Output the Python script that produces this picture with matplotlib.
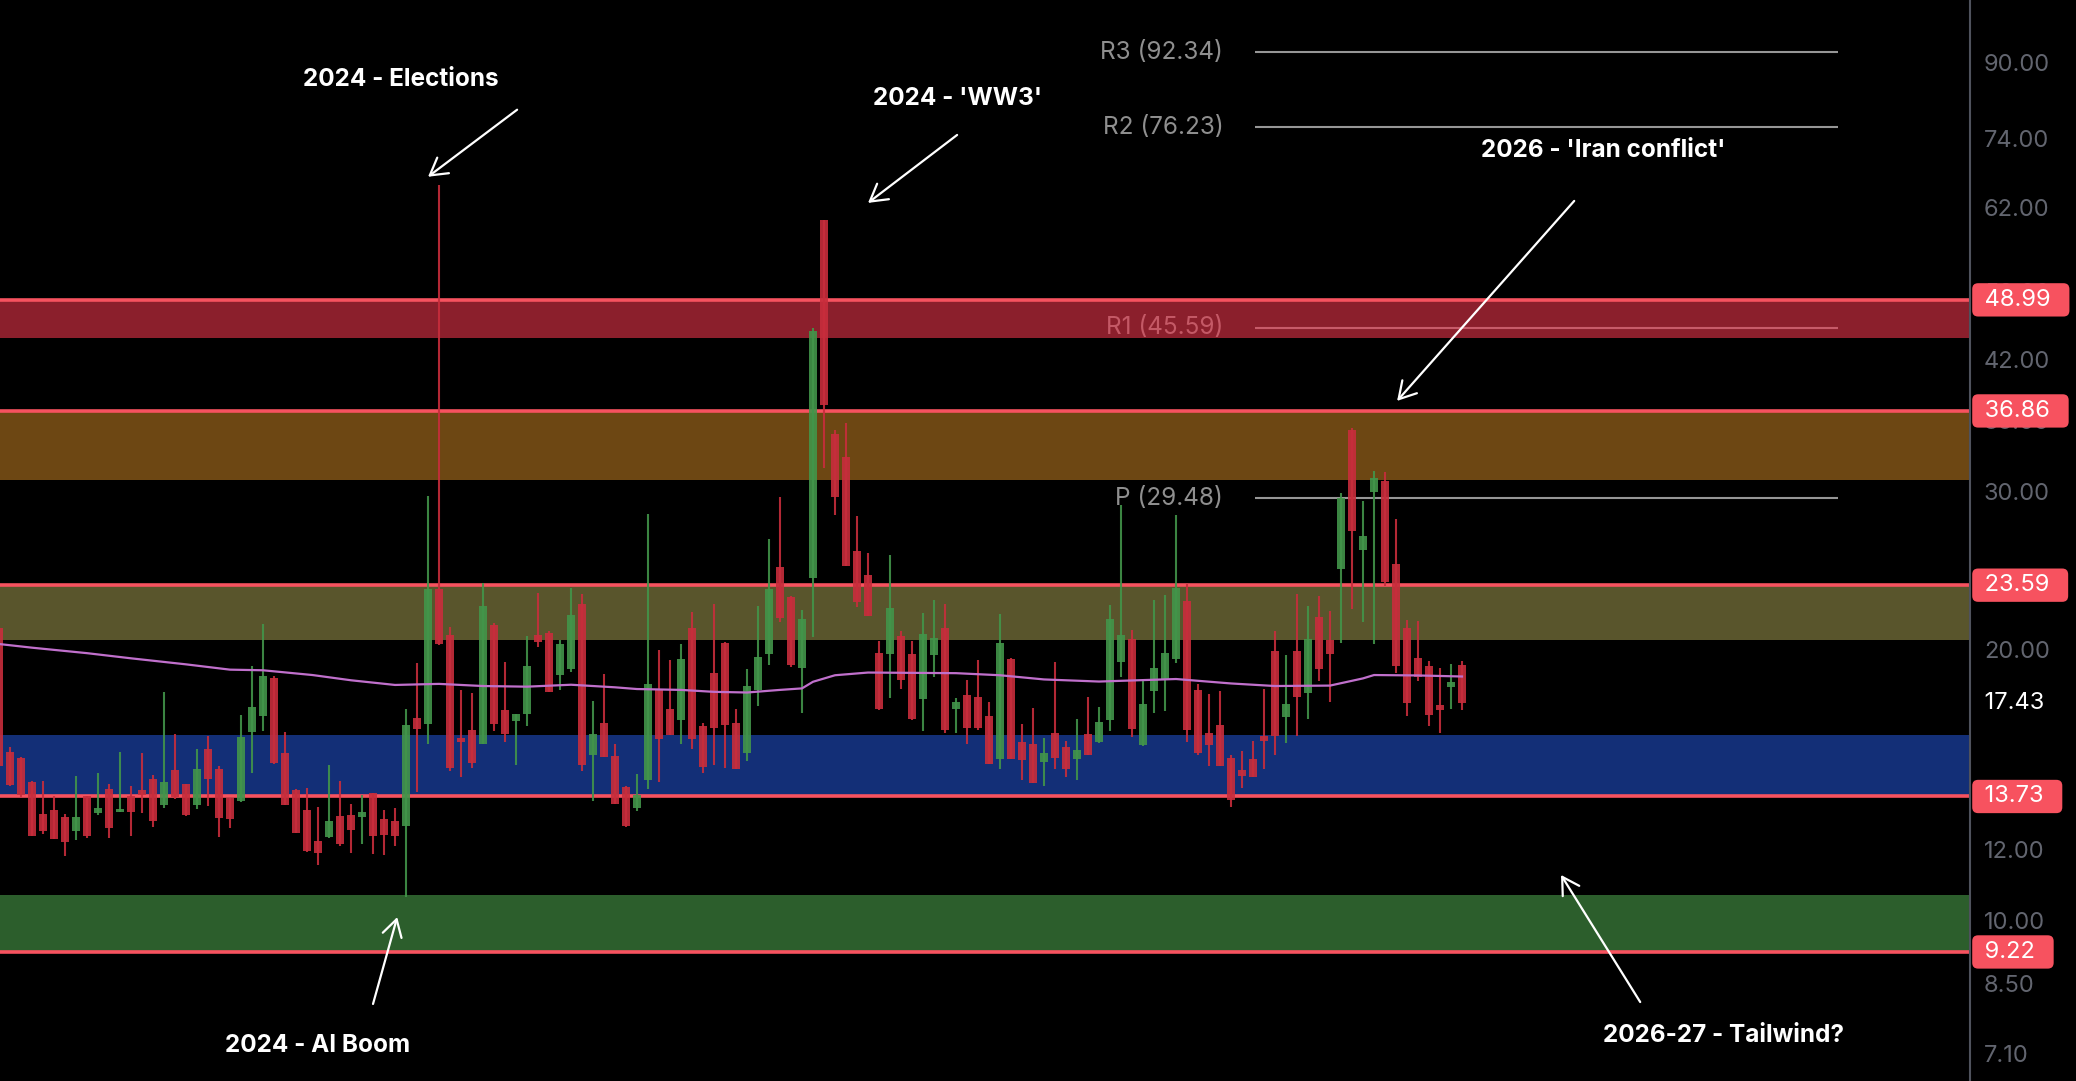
import numpy as np
import matplotlib.pyplot as plt
from matplotlib.transforms import blended_transform_factory
from matplotlib.ticker import NullLocator

plt.rcParams['font.family'] = ['Inter', 'DejaVu Sans']

# daily candles (oldest first)
opens = [21.14, 15.39, 15.15, 14.25, 13.13, 13.27, 13.03, 12.57, 13.75, 13.17,
         13.99, 13.20, 13.75, 13.96, 14.36, 13.44, 14.70, 14.17, 13.44, 15.51,
         14.73, 13.67, 13.57, 16.20, 16.88, 18.60, 15.35, 13.96, 13.27, 12.26,
         12.37, 13.07, 13.10, 13.03, 13.85, 12.96, 12.90, 12.73, 16.79, 16.53,
         23.36, 20.76, 15.95, 16.28, 15.71, 21.30, 17.14, 16.66, 16.97, 20.76,
         20.87, 18.75, 19.03, 22.48, 15.27, 16.57, 15.23, 14.06, 13.33, 14.32,
         18.08, 17.18, 16.70, 21.14, 16.44, 18.84, 20.34, 16.57, 15.35, 18.04,
         19.78, 24.72, 22.88, 19.09, 24.03, 60.12, 34.76, 32.76, 25.75, 24.22,
         19.83, 19.78, 20.71, 19.78, 17.62, 19.73, 21.14, 17.18, 17.81, 17.72,
         16.88, 15.12, 19.53, 15.79, 15.71, 15.00, 16.16, 15.59, 15.12, 16.11,
         15.79, 16.70, 19.38, 20.55, 15.67, 17.99, 18.56, 19.53, 22.65, 18.04,
         16.16, 16.49, 15.15, 14.70, 15.12, 16.03, 19.93, 16.83, 19.93, 17.90,
         21.75, 20.50, 24.59, 35.12, 25.82, 29.96, 30.81, 24.92, 21.14, 19.58,
         19.18, 17.36, 18.18, 19.23]
highs = [21.14, 15.59, 15.19, 14.28, 14.28, 13.75, 13.13, 14.47, 13.75, 14.59,
         14.17, 15.39, 14.10, 15.35, 14.51, 17.95, 16.11, 14.17, 15.51, 16.03,
         14.85, 13.67, 16.92, 19.18, 21.36, 18.70, 16.20, 13.99, 14.03, 13.37,
         14.89, 14.28, 13.47, 13.78, 13.85, 13.27, 13.33, 17.18, 19.33, 29.65,
         65.76, 21.19, 18.04, 17.90, 23.73, 21.41, 19.38, 16.97, 20.71, 23.13,
         20.98, 20.50, 23.42, 23.07, 17.53, 18.80, 15.71, 14.10, 14.55, 28.32,
         19.98, 19.48, 20.29, 22.03, 16.57, 22.48, 20.40, 17.18, 19.03, 22.36,
         26.56, 29.58, 22.94, 22.14, 45.60, 60.12, 35.12, 35.75, 28.17, 25.62,
         20.45, 25.49, 20.98, 20.45, 21.97, 22.71, 22.48, 17.67, 18.51, 19.48,
         17.49, 21.92, 19.58, 16.53, 17.22, 15.95, 19.38, 15.83, 16.74, 17.72,
         17.27, 22.42, 28.98, 21.03, 18.56, 22.71, 23.01, 28.24, 23.67, 18.32,
         17.86, 17.99, 15.27, 15.43, 15.83, 18.08, 20.98, 19.73, 23.07, 22.36,
         22.94, 22.08, 29.88, 35.30, 29.27, 31.61, 31.53, 27.95, 21.58, 21.53,
         19.43, 19.09, 19.28, 19.43]
lows = [14.85, 14.10, 13.71, 12.40, 12.47, 12.30, 11.79, 12.29, 12.34, 13.10,
        12.34, 13.20, 12.41, 13.17, 12.70, 13.33, 13.64, 13.07, 13.30, 13.40,
        12.37, 12.66, 13.54, 14.59, 16.24, 14.93, 13.44, 12.50, 11.91, 11.52,
        12.34, 12.10, 11.88, 12.16, 11.85, 11.82, 12.10, 10.61, 13.89, 15.71,
        20.24, 14.66, 14.44, 14.77, 15.71, 16.24, 15.79, 14.89, 16.44, 20.13,
        17.95, 18.04, 18.89, 14.66, 13.57, 15.19, 13.47, 12.70, 13.24, 13.99,
        14.25, 16.07, 15.71, 15.51, 14.59, 14.89, 14.77, 14.73, 15.04, 17.31,
        19.23, 21.47, 19.14, 17.01, 20.65, 31.85, 28.24, 24.78, 22.30, 21.80,
        17.14, 17.67, 18.08, 16.70, 16.24, 18.65, 16.16, 16.16, 15.71, 16.28,
        14.93, 14.73, 15.12, 14.32, 14.21, 14.10, 14.73, 14.44, 14.32, 15.27,
        15.75, 16.24, 18.65, 15.99, 15.63, 17.01, 17.09, 19.33, 15.79, 15.27,
        14.85, 14.85, 13.37, 14.03, 14.44, 14.73, 15.27, 15.75, 16.03, 16.74,
        18.46, 17.49, 20.34, 22.20, 21.47, 20.29, 23.55, 18.84, 16.88, 18.46,
        16.44, 16.16, 17.18, 17.14]
closes = [14.85, 14.14, 13.78, 12.41, 12.57, 12.31, 12.23, 13.03, 12.41, 13.33,
          12.66, 13.30, 13.20, 13.78, 12.90, 14.25, 13.71, 13.10, 14.73, 14.36,
          13.00, 12.96, 15.99, 17.27, 18.70, 14.96, 13.44, 12.50, 11.94, 11.88,
          12.90, 12.16, 12.60, 13.20, 12.41, 12.44, 12.41, 16.49, 16.32, 23.36,
          20.29, 14.77, 15.79, 14.96, 22.36, 16.53, 16.11, 16.97, 19.18, 20.40,
          17.95, 20.29, 21.86, 14.89, 16.11, 15.19, 13.47, 12.73, 13.78, 18.32,
          15.91, 16.07, 19.53, 15.91, 14.81, 16.36, 16.49, 14.73, 18.23, 19.62,
          23.36, 21.69, 19.23, 21.64, 45.25, 37.43, 29.58, 24.78, 22.59, 21.80,
          17.18, 22.24, 18.51, 16.74, 20.82, 20.61, 16.28, 17.49, 16.36, 16.36,
          14.93, 20.34, 15.12, 15.08, 14.21, 15.35, 15.15, 14.73, 15.47, 15.27,
          16.62, 21.64, 20.76, 16.32, 17.40, 19.09, 19.83, 23.42, 16.28, 15.35,
          15.67, 14.85, 13.61, 14.47, 14.44, 15.83, 16.03, 17.40, 17.72, 20.55,
          19.03, 19.78, 29.50, 27.11, 26.76, 31.05, 23.79, 19.18, 17.45, 18.65,
          16.92, 17.14, 18.41, 17.43]

# moving average, sampled along the curve
ma_idx = [0, 3, 8, 12, 17, 21, 24, 28.5, 32, 36, 40, 44, 48, 52, 56, 58, 62, 65,
          68, 71, 73, 74, 76, 79, 87, 91, 95, 100, 107, 112, 116, 121, 124, 125,
          129, 133]
ma_val = [20.29, 20.10, 19.82, 19.56, 19.26, 19.00, 18.97, 18.74, 18.49, 18.27,
          18.32, 18.22, 18.19, 18.28, 18.16, 18.08, 18.04, 17.95, 17.92, 18.04,
          18.11, 18.42, 18.73, 18.86, 18.83, 18.73, 18.53, 18.43, 18.55, 18.34,
          18.22, 18.24, 18.58, 18.74, 18.72, 18.67]

zone_low = [44.45, 30.89, 20.51, 13.73, 9.22]
zone_high = [48.99, 36.86, 23.59, 16.07, 10.67]
zone_colors = ['#e9354b', '#b77821', '#968e4b', '#2150c8', '#4b9e4b']
levels = [48.99, 36.86, 23.59, 13.73, 9.22]

pivot_names = ['R4', 'R3', 'R2', 'R1', 'P']
pivot_vals = [108.45, 92.34, 76.23, 45.59, 29.48]

tick_vals = [90, 74, 62, 50, 42, 36, 30, 24, 20, 14, 12, 10, 8.5, 7.1]

notes = [
    ("2024 - Elections", (36.5, 86.15), (47.1, 79.73), (39.0, 67.15)),
    ("2024 - 'WW3'", (87.1, 81.96), (87.1, 74.74), (79.0, 62.80)),
    ("2026 - 'Iran conflict'", (145.8, 71.75), (143.2, 63.12), (127.1, 37.82)),
    ("2024 - AI Boom", (29.0, 7.25), (34.0, 8.07), (36.2, 10.08)),
    ("2026-27 - Tailwind?", (156.8, 7.45), (149.2, 8.11), (142.0, 11.23)),
]

o = np.array(opens)
h = np.array(highs)
l = np.array(lows)
c = np.array(closes)
idx = np.arange(len(o))
cols = np.where(c >= o, '#42954a', '#c82d3c')

fig = plt.figure(figsize=(20.76, 10.81), dpi=100, facecolor='black')
ax = fig.add_axes([0, 0, 1970 / 2076, 1], facecolor='black')
ax.set_yscale('log')
ax.set_ylim(6.625, 105.6)
ax.set_xlim(0.09, 179.18)

# pivot lines (under the zones)
ax.hlines(pivot_vals, 114.2, 167.2, color='#969696', lw=1.5, zorder=1)
for name, v in zip(pivot_names, pivot_vals):
    ax.text(111.3, v, f'{name} ({v:.2f})', ha='right', va='center',
            color='#8f8f8f', fontsize=17.5, zorder=1, clip_on=True)

for lo, hi, col in zip(zone_low, zone_high, zone_colors):
    ax.axhspan(lo, hi, color=col, alpha=0.6, lw=0, zorder=2)
for v in levels:
    ax.axhline(v, color='#f7525f', lw=2.6, zorder=2.5)

# candles
ax.vlines(idx, l, h, colors=cols, lw=1.5, alpha=0.9, zorder=3)
ax.bar(idx, np.abs(c - o), bottom=np.minimum(o, c), width=0.73, color=cols,
       alpha=0.9, lw=0, zorder=3.1)
ax.plot(ma_idx, ma_val, color='#c070cc', lw=1.6, zorder=4)

for label, tpos, tail, tip in notes:
    ax.text(tpos[0], tpos[1], label, ha='center', va='center', color='white',
            fontsize=17.5, fontweight='bold', zorder=6)
    ax.annotate('', xy=tip, xytext=tail, zorder=6,
                arrowprops=dict(arrowstyle='->,head_length=0.6,head_width=0.35',
                                color='white', lw=1.6, mutation_scale=20,
                                shrinkA=0, shrinkB=0))

# price scale
ax.yaxis.tick_right()
ax.set_yticks(tick_vals, labels=[f'{v:.2f}' for v in tick_vals])
ax.yaxis.set_minor_locator(NullLocator())
ax.tick_params(axis='y', length=0, pad=10, labelsize=17, labelcolor='#62656f')
ax.set_xticks([])
for s in ['left', 'top', 'bottom']:
    ax.spines[s].set_visible(False)
ax.spines['right'].set_color('#4f525d')
ax.spines['right'].set_linewidth(1.5)

tr = blended_transform_factory(ax.transAxes, ax.transData)
for v in levels:
    ax.text(1.004, v, f' {v:.2f}  ', transform=tr, ha='left', va='center',
            color='white', fontsize=17, clip_on=False, zorder=10,
            bbox=dict(boxstyle='round,pad=0.24,rounding_size=0.25',
                      fc='#f7525f', ec='none'))
ax.text(1.004, closes[-1], f' {closes[-1]:.2f}  ', transform=tr, ha='left',
        va='center', color='white', fontsize=17, clip_on=False, zorder=10,
        bbox=dict(boxstyle='square,pad=0.24', fc='black', ec='none'))

fig.savefig('out.png', dpi=100, facecolor='black')
